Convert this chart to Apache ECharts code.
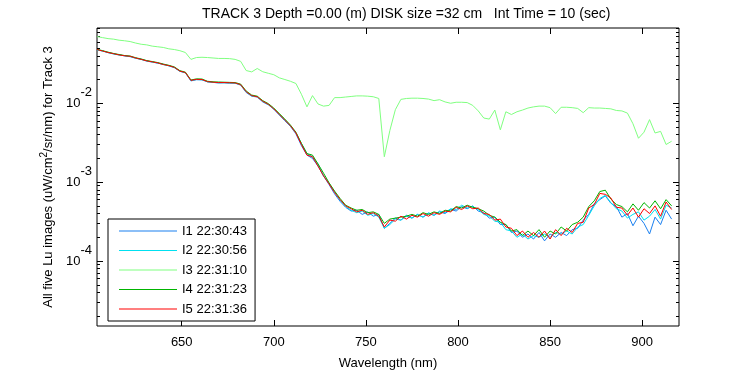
<!DOCTYPE html>
<html>
<head>
<meta charset="utf-8">
<script src="https://cdn.jsdelivr.net/npm/echarts@6/dist/echarts.min.js"></script>
<style>
  html, body { margin: 0; padding: 0; background: #fff; }
  #chart { width: 750px; height: 375px; }
</style>
</head>
<body>
<div id="chart"></div>
<script>
// wavelength grid (nm)
var wavelengths = [604,607,610,613,616,619,622,625,628,631,634,637,640,643,646,649,652,655,658,661,664,667,670,673,676,679,682,685,688,691,694,697,700,703,706,709,712,715,718,721,724,727,730,733,736,739,742,745,748,751,754,757,760,763,766,769,772,775,778,781,784,787,790,793,796,799,802,805,808,811,814,817,820,823,826,829,832,835,838,841,844,847,850,853,856,859,862,865,868,871,874,877,880,883,886,889,892,895,898,901,904,907,910,913,916];

var seriesNames = ['I1 22:30:43', 'I2 22:30:56', 'I3 22:31:10', 'I4 22:31:23', 'I5 22:31:36'];

var luI1 = [0.0478,0.0462,0.0438,0.0424,0.0412,0.0398,0.0390,0.0372,0.0362,0.0342,0.0333,0.0322,0.0312,0.0298,0.0283,0.0254,0.0243,0.0192,0.0199,0.0198,0.0187,0.0184,0.0181,0.0182,0.0180,0.0180,0.0170,0.0137,0.0123,0.0120,0.0104,0.0096,0.0084,0.0071,0.0060,0.0051,0.0041,0.0029,0.0022,0.0020,0.0016,0.0012,0.00093,0.00071,0.00057,0.00048,
  0.00043,0.00044,0.00039,0.00042,0.00037,0.00039,0.00026,0.00030,0.00035,0.00033,0.00038,0.00035,0.00039,0.00036,0.00040,0.00038,0.00042,0.00040,0.00045,0.00043,0.00049,0.00046,0.00050,0.00043,0.00041,0.00035,0.00036,0.00029,0.00029,0.00023,0.00024,0.00020,0.00022,0.00019,0.00023,0.00018,0.00022,0.00020,0.00023,0.00021,0.00025,0.00026,0.00033,0.00039,0.00053,0.00060,0.00067,0.00054,0.00049,0.00036,0.00040,0.00028,0.00037,0.00030,0.00022,0.00036,0.00029,0.00044,0.00034];

var luI2 = [0.0476,0.0458,0.0440,0.0421,0.0409,0.0401,0.0392,0.0373,0.0359,0.0344,0.0334,0.0324,0.0309,0.0299,0.0284,0.0255,0.0244,0.0194,0.0200,0.0199,0.0187,0.0184,0.0182,0.0182,0.0181,0.0180,0.0171,0.0139,0.0124,0.0121,0.0105,0.0096,0.0085,0.0072,0.0061,0.0052,0.0042,0.0031,0.0023,0.0021,0.0017,0.0012,0.00097,0.00075,0.00059,0.00049,
  0.00044,0.00041,0.00043,0.00038,0.00040,0.00036,0.00026,0.00029,0.00034,0.00033,0.00037,0.00035,0.00039,0.00036,0.00041,0.00038,0.00043,0.00041,0.00046,0.00045,0.00051,0.00047,0.00049,0.00045,0.00039,0.00037,0.00032,0.00031,0.00025,0.00024,0.00020,0.00022,0.00019,0.00021,0.00020,0.00022,0.00020,0.00023,0.00022,0.00024,0.00022,0.00027,0.00029,0.00038,0.00050,0.00062,0.00068,0.00055,0.00046,0.00043,0.00035,0.00039,0.00042,0.00033,0.00037,0.00045,0.00034,0.00051,0.00047];

var luI3 = [0.070,0.068,0.066,0.065,0.063,0.062,0.0606,0.058,0.056,0.055,0.053,0.052,0.051,0.049,0.048,0.0464,0.044,0.036,0.038,0.0383,0.038,0.0375,0.037,0.037,0.0368,0.036,0.034,0.026,0.025,0.0276,0.0251,0.0240,0.0230,0.0210,0.0200,0.0190,0.0178,0.0130,0.0090,0.0125,0.0098,0.0092,0.0094,0.0118,0.0118,0.0120,
  0.0122,0.0124,0.0124,0.0123,0.0121,0.0115,0.0021,0.0045,0.0083,0.0112,0.0115,0.0116,0.0116,0.0115,0.0113,0.0108,0.0111,0.0104,0.0100,0.0103,0.0103,0.0102,0.0094,0.0080,0.0065,0.0063,0.0082,0.0046,0.0078,0.0072,0.0078,0.0082,0.0087,0.0090,0.0092,0.0092,0.0088,0.0074,0.0089,0.0089,0.0088,0.0086,0.0076,0.0088,0.0087,0.0087,0.0086,0.0085,0.0081,0.0080,0.0075,0.0055,0.0036,0.0043,0.0062,0.0042,0.0044,0.0030,0.0033];

var luI4 = [0.0482,0.0465,0.0445,0.0428,0.0415,0.0403,0.0397,0.0378,0.0364,0.0348,0.0338,0.0328,0.0314,0.0303,0.0289,0.0259,0.0248,0.0197,0.0204,0.0203,0.0190,0.0187,0.0186,0.0185,0.0184,0.0183,0.0175,0.0143,0.0127,0.0123,0.0108,0.0099,0.0087,0.0074,0.0063,0.0053,0.0043,0.0031,0.0023,0.0022,0.0017,0.0013,0.00098,0.00077,0.00062,0.00051,
  0.00047,0.00044,0.00045,0.00041,0.00042,0.00039,0.00030,0.00034,0.00035,0.00036,0.00037,0.00039,0.00037,0.00041,0.00039,0.00042,0.00040,0.00044,0.00043,0.00049,0.00047,0.00051,0.00048,0.00046,0.00043,0.00038,0.00036,0.00031,0.00029,0.00024,0.00025,0.00021,0.00024,0.00021,0.00025,0.00020,0.00024,0.00022,0.00027,0.00024,0.00029,0.00031,0.00036,0.00049,0.00058,0.00076,0.00079,0.00061,0.00052,0.00049,0.00042,0.00053,0.00044,0.00055,0.00047,0.00058,0.00046,0.00060,0.00050];

var luI5 = [0.048,0.046,0.044,0.0425,0.041,0.040,0.0394,0.0375,0.036,0.0345,0.0335,0.0325,0.031,0.030,0.0285,0.0256,0.0245,0.0195,0.0201,0.0200,0.0188,0.0185,0.0183,0.0183,0.0182,0.0181,0.0172,0.0140,0.0125,0.0121,0.0106,0.0097,0.0085,0.0072,0.0061,0.0052,0.0042,0.0030,0.0022,0.0021,0.0016,0.0012,0.00095,0.00074,0.00060,0.00050,
  0.00046,0.00042,0.00044,0.00039,0.00041,0.00037,0.00027,0.00033,0.00032,0.00037,0.00034,0.00038,0.00036,0.00040,0.00037,0.00041,0.00039,0.00043,0.00042,0.00048,0.00045,0.00050,0.00046,0.00047,0.00040,0.00039,0.00033,0.00034,0.00027,0.00026,0.00021,0.00024,0.00020,0.00023,0.00020,0.00024,0.00019,0.00025,0.00021,0.00026,0.00023,0.00030,0.00031,0.00047,0.00052,0.00072,0.00070,0.00063,0.00048,0.00047,0.00038,0.00047,0.00036,0.00046,0.00040,0.00050,0.00037,0.00056,0.00045];

var xTicks = [650, 700, 750, 800, 850, 900];
var yMajorTicks = [1e-4, 1e-3, 1e-2];
var yMinorTicks = [2e-5,3e-5,4e-5,5e-5,6e-5,7e-5,8e-5,9e-5,
                   2e-4,3e-4,4e-4,5e-4,6e-4,7e-4,8e-4,9e-4,
                   2e-3,3e-3,4e-3,5e-3,6e-3,7e-3,8e-3,9e-3,
                   2e-2,3e-2,4e-2,5e-2,6e-2,7e-2,8e-2,9e-2];

var colors = ['#1a80f0', '#00e0f0', '#80ff80', '#00b400', '#ff0000'];
var allData = [luI1, luI2, luI3, luI4, luI5];

var FONT = 'Liberation Sans, Arial, sans-serif';
var X_MIN = 604, X_MAX = 920, Y_MIN = 1.5e-5, Y_MAX = 0.09;

function pairs(vals) {
  return wavelengths.map(function (w, i) { return [w, vals[i]]; });
}

function xAxisDef(pos, labels) {
  return {
    type: 'value', position: pos, min: X_MIN, max: X_MAX,
    axisLine: { show: false },
    splitLine: { show: false },
    axisTick: { inside: true, length: 6, customValues: xTicks, lineStyle: { color: '#000' } },
    axisLabel: { show: labels, customValues: xTicks, color: '#000', fontFamily: FONT, fontSize: 13, margin: 10 },
    name: labels ? 'Wavelength (nm)' : '',
    nameLocation: 'middle', nameGap: 31,
    nameTextStyle: { color: '#000', fontFamily: FONT, fontSize: 13 }
  };
}

function yAxisDef(pos, ticks, len, labels) {
  var ax = {
    type: 'log', logBase: 10, position: pos, min: Y_MIN, max: Y_MAX,
    axisLine: { show: false },
    splitLine: { show: false },
    axisTick: { inside: true, length: len, customValues: ticks, lineStyle: { color: '#000' } },
    axisLabel: { show: false }
  };
  if (labels) {
    ax.axisLabel = {
      show: true, customValues: ticks, margin: 5,
      formatter: function (v) { return '{b|10}{s|' + Math.round(Math.log10(v)) + '}'; },
      rich: {
        b: { fontFamily: FONT, fontSize: 13, color: '#000' },
        s: { fontFamily: FONT, fontSize: 13, color: '#000', padding: [0, 0, 22, 0] }
      }
    };
    ax.name = '{n|All five Lu images (uW/cm}{s|2}{n|/sr/nm) for Track 3}';
    ax.nameLocation = 'middle';
    ax.nameGap = 37;
    ax.nameTextStyle = {
      rich: {
        n: { fontFamily: FONT, fontSize: 13, color: '#000' },
        s: { fontFamily: FONT, fontSize: 10, color: '#000', padding: [0, 0, 8, 0] }
      }
    };
  }
  return ax;
}

var chart = echarts.init(document.getElementById('chart'));
chart.setOption({
  animation: false,
  backgroundColor: '#fff',
  color: colors,
  title: {
    text: 'TRACK 3 Depth =0.00 (m) DISK size =32 cm   Int Time = 10 (sec)',
    left: 197, top: 2,
    textStyle: { fontFamily: FONT, fontSize: 14, fontWeight: 'normal', color: '#000' }
  },
  grid: { left: 97, right: 71, top: 28, bottom: 44, show: true, borderColor: '#000', borderWidth: 1, backgroundColor: '#fff' },
  legend: {
    orient: 'vertical', left: 108, top: 219,
    padding: [5, 8, 5, 11], itemGap: 5.5,
    itemWidth: 58, itemHeight: 1, icon: 'rect',
    borderColor: '#000', borderWidth: 1, backgroundColor: '#fff',
    textStyle: { fontFamily: FONT, fontSize: 13, color: '#000', lineHeight: 14 },
    data: seriesNames
  },
  xAxis: [xAxisDef('bottom', true), xAxisDef('top', false)],
  yAxis: [
    yAxisDef('left', yMajorTicks, 6, true),
    yAxisDef('left', yMinorTicks, 3, false),
    yAxisDef('right', yMajorTicks, 6, false),
    yAxisDef('right', yMinorTicks, 3, false)
  ],
  series: allData.map(function (d, i) {
    return {
      name: seriesNames[i], type: 'line', xAxisIndex: 0, yAxisIndex: 0,
      data: pairs(d), showSymbol: false, symbol: 'none',
      lineStyle: { width: 1, color: colors[i] },
      itemStyle: { color: colors[i] }
    };
  })
});
</script>
</body>
</html>
